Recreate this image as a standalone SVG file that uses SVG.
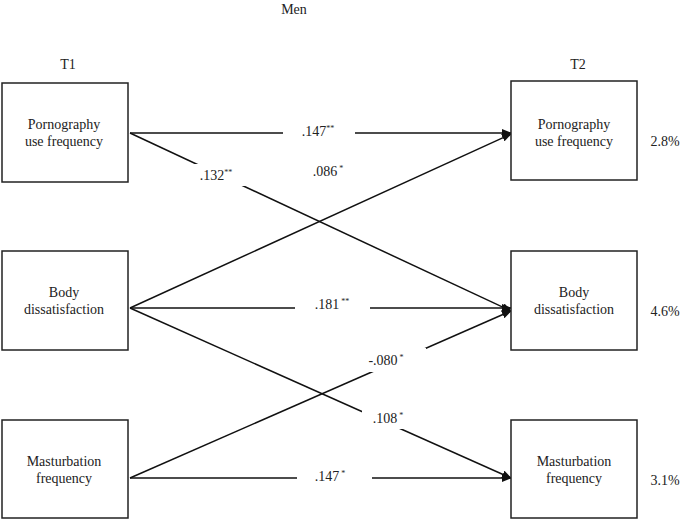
<svg xmlns="http://www.w3.org/2000/svg" width="685" height="520" viewBox="0 0 685 520" font-family="Liberation Serif, DejaVu Serif, serif">
<style>
text{font-family:'Liberation Serif','DejaVu Serif',serif;font-size:14px;fill:#222;text-anchor:middle}
.b{fill:#fff;stroke:#222;stroke-width:1.5}
.c line{stroke:#111;stroke-width:1.5;marker-end:url(#a)}
.m{fill:#fff}
.s{font-size:8px}
</style>
<defs><marker id="a" markerWidth="10" markerHeight="8" refX="9" refY="4" orient="auto" markerUnits="userSpaceOnUse"><path d="M0,0L10,4L0,8z" fill="#111"/></marker></defs>
<rect width="685" height="520" fill="#fff"/>
<text x="294" y="14">Men</text>
<text x="68" y="69">T1</text>
<text x="578" y="69">T2</text>
<g class="c">
<line x1="130" y1="133" x2="511" y2="133"/>
<line x1="130" y1="133" x2="511" y2="311"/>
<line x1="130" y1="308" x2="511" y2="134"/>
<line x1="130" y1="308" x2="511" y2="308"/>
<line x1="130" y1="308" x2="511" y2="478"/>
<line x1="130" y1="478" x2="511" y2="311"/>
<line x1="130" y1="478" x2="511" y2="478"/>
</g>
<g id="labels">
<rect class="m" x="283" y="122" width="72" height="20"/><text x="318" y="136">.147<tspan class="s" dy="-5">**</tspan></text>
<rect class="m" x="190" y="164" width="58" height="22"/><text x="216" y="180">.132<tspan class="s" dy="-5">**</tspan></text>
<rect class="m" x="300" y="160" width="57" height="22"/><text x="328" y="176">.086<tspan class="s" dy="-5"> *</tspan></text>
<rect class="m" x="295" y="295" width="75" height="20"/><text x="332" y="309">.181<tspan class="s" dy="-5"> **</tspan></text>
<rect class="m" x="362" y="348" width="64" height="24"/><text x="386" y="365">-.080<tspan class="s" dy="-5"> *</tspan></text>
<rect class="m" x="362" y="405" width="60" height="24"/><text x="388" y="423">.108<tspan class="s" dy="-5"> *</tspan></text>
<rect class="m" x="297" y="466" width="75" height="20"/><text x="330" y="481">.147<tspan class="s" dy="-5"> *</tspan></text>
</g>
<g id="n1"><rect class="b" x="2" y="83" width="126" height="99"/><text x="64" y="129">Pornography</text><text x="64" y="146">use frequency</text></g>
<g id="n2"><rect class="b" x="2" y="251" width="126" height="99"/><text x="64" y="297">Body</text><text x="64" y="314">dissatisfaction</text></g>
<g id="n3"><rect class="b" x="2" y="420" width="126" height="98"/><text x="64" y="466">Masturbation</text><text x="64" y="483">frequency</text></g>
<g id="n4"><rect class="b" x="511" y="81" width="126" height="99"/><text x="574" y="129">Pornography</text><text x="574" y="146">use frequency</text></g>
<g id="n5"><rect class="b" x="511" y="251" width="126" height="99"/><text x="574" y="297">Body</text><text x="574" y="314">dissatisfaction</text></g>
<g id="n6"><rect class="b" x="511" y="420" width="126" height="98"/><text x="574" y="466">Masturbation</text><text x="574" y="483">frequency</text></g>
<text x="665" y="146">2.8%</text>
<text x="665" y="316">4.6%</text>
<text x="665" y="485">3.1%</text>
</svg>
